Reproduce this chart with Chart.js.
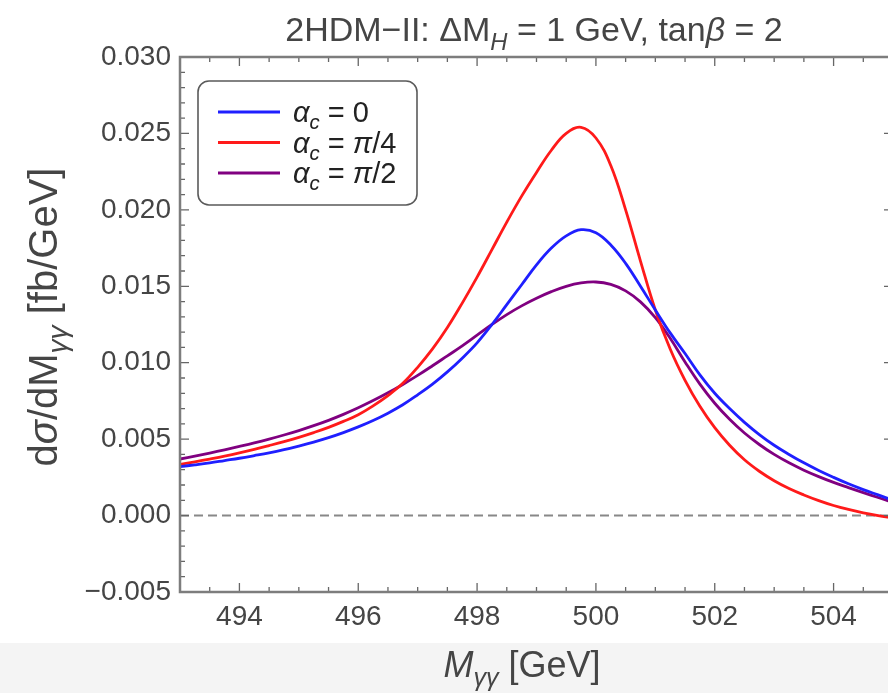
<!DOCTYPE html>
<html>
<head>
<meta charset="utf-8">
<script src="https://cdn.jsdelivr.net/npm/chart.js@4"></script>
<style>
  html, body { margin: 0; padding: 0; overflow: hidden; background: #fff; }
  canvas { display: block; }
</style>
</head>
<body>
<canvas id="chart" width="893" height="693" style="width:893px;height:693px"></canvas>
<script>
// values, every 0.25 GeV from 493 to 505 (y in fb/GeV)
const massStart = 493;
const massStep = 0.25;
const sigmaAlpha0 = [
  0.00320, 0.00332, 0.00345, 0.00360, 0.00375, 0.00392, 0.00410, 0.00431,
  0.00455, 0.00481, 0.00510, 0.00543, 0.00580, 0.00622, 0.00670, 0.00725,
  0.00790, 0.00860, 0.00940, 0.01030, 0.01130, 0.01250, 0.01380, 0.01510,
  0.01640, 0.01750, 0.01830, 0.01870, 0.01850, 0.01770, 0.01650, 0.01500,
  0.01345, 0.01195, 0.01060, 0.00920, 0.00800, 0.00700, 0.00610, 0.00530,
  0.00460, 0.00400, 0.00345, 0.00295, 0.00250, 0.00208, 0.00170, 0.00135, 0.00100];
const sigmaAlphaPi4 = [
  0.00335, 0.00352, 0.00370, 0.00389, 0.00410, 0.00433, 0.00458, 0.00484,
  0.00512, 0.00543, 0.00577, 0.00616, 0.00660, 0.00718, 0.00785, 0.00865,
  0.00970, 0.01090, 0.01230, 0.01390, 0.01560, 0.01740, 0.01920, 0.02090,
  0.02245, 0.02390, 0.02500, 0.02540, 0.02470, 0.02290, 0.02000, 0.01665,
  0.01345, 0.01090, 0.00885, 0.00715, 0.00575, 0.00460, 0.00365, 0.00290,
  0.00228, 0.00177, 0.00135, 0.00098, 0.00066, 0.00040, 0.00018, 0.00000, -0.00015];
const sigmaAlphaPi2 = [
  0.00370, 0.00389, 0.00409, 0.00430, 0.00452, 0.00475, 0.00500, 0.00527,
  0.00556, 0.00588, 0.00623, 0.00662, 0.00705, 0.00752, 0.00803, 0.00858,
  0.00917, 0.00980, 0.01045, 0.01110, 0.01180, 0.01250, 0.01315, 0.01372,
  0.01422, 0.01465, 0.01500, 0.01522, 0.01528, 0.01512, 0.01470, 0.01398,
  0.01295, 0.01160, 0.01005, 0.00860, 0.00735, 0.00630, 0.00540, 0.00465,
  0.00400, 0.00345, 0.00297, 0.00255, 0.00217, 0.00183, 0.00150, 0.00118, 0.00085];
const mass = sigmaAlpha0.map((_, i) => massStart + i * massStep);

const seriesLabels = ["0", "π/4", "π/2"];
const seriesColors = ["#1f1fff", "#ff1a1a", "#800080"];
const xTicks = [494, 496, 498, 500, 502, 504];
const yTicks = [-0.005, 0, 0.005, 0.010, 0.015, 0.020, 0.025, 0.030];

const FONT = "'Liberation Sans', Arial, Helvetica, sans-serif";
const TEXT = "#454545";

function toPoints(ys) {
  return mass.map((m, i) => ({ x: m, y: ys[i] }));
}

// draw a run of text pieces, some italic and/or subscripted
function richWidth(ctx, parts, size) {
  let w = 0;
  for (const p of parts) {
    const s = p.sub ? size * 0.7 : size;
    ctx.font = (p.it ? "italic " : "") + s + "px " + FONT;
    w += ctx.measureText(p.t).width;
  }
  return w;
}
function drawRich(ctx, parts, x, y, size) {
  let cx = x - richWidth(ctx, parts, size) / 2;
  ctx.textBaseline = "alphabetic";
  ctx.textAlign = "left";
  for (const p of parts) {
    const s = p.sub ? size * 0.7 : size;
    ctx.font = (p.it ? "italic " : "") + s + "px " + FONT;
    ctx.fillText(p.t, cx, p.sub ? y + size * 0.25 : y);
    cx += ctx.measureText(p.t).width;
  }
}

const background = {
  id: "background",
  beforeDraw(chart) {
    const ctx = chart.ctx;
    ctx.save();
    ctx.fillStyle = "#fff";
    ctx.fillRect(0, 0, chart.width, chart.height);
    ctx.fillStyle = "#f4f4f4";
    ctx.fillRect(0, 643, chart.width, chart.height - 643);
    ctx.restore();
  }
};

const zeroLine = {
  id: "zeroLine",
  beforeDatasetsDraw(chart) {
    const { ctx, chartArea } = chart;
    const y0 = chart.scales.y.getPixelForValue(0);
    ctx.save();
    ctx.strokeStyle = "#888";
    ctx.lineWidth = 2;
    ctx.setLineDash([9, 5]);
    ctx.beginPath();
    ctx.moveTo(chartArea.left, y0);
    ctx.lineTo(chartArea.right, y0);
    ctx.stroke();
    ctx.restore();
  }
};

const frame = {
  id: "frame",
  afterDraw(chart) {
    const { ctx, chartArea: a, scales } = chart;
    ctx.save();
    // ticks on all four sides, pointing inward
    ctx.strokeStyle = "#666";
    ctx.lineWidth = 1.3;
    ctx.beginPath();
    for (let v = 493; v <= 505.001; v += 0.5) {
      const px = scales.x.getPixelForValue(v);
      const len = Math.abs(v / 2 - Math.round(v / 2)) < 1e-6 ? 9 : 5;
      ctx.moveTo(px, a.bottom); ctx.lineTo(px, a.bottom - len);
      ctx.moveTo(px, a.top); ctx.lineTo(px, a.top + len);
    }
    for (let k = -5; k <= 30; k++) {
      const py = scales.y.getPixelForValue(k / 1000);
      const len = k % 5 === 0 ? 9 : 5;
      ctx.moveTo(a.left, py); ctx.lineTo(a.left + len, py);
      ctx.moveTo(a.right, py); ctx.lineTo(a.right - len, py);
    }
    ctx.stroke();
    ctx.strokeStyle = "#7d7d7d";
    ctx.lineWidth = 2.5;
    ctx.strokeRect(a.left, a.top, a.right - a.left, a.bottom - a.top);

    // titles
    ctx.fillStyle = TEXT;
    drawRich(ctx, [
      { t: "2HDM\u2212II: \u0394M" }, { t: "H", it: true, sub: true },
      { t: " = 1 GeV, tan" }, { t: "\u03b2", it: true }, { t: " = 2" }
    ], 534, 41, 34);
    drawRich(ctx, [
      { t: "M", it: true }, { t: "\u03b3\u03b3", it: true, sub: true }, { t: " [GeV]" }
    ], 522, 677, 36);
    ctx.save();
    ctx.translate(57, 317);
    ctx.rotate(-Math.PI / 2);
    drawRich(ctx, [
      { t: "d" }, { t: "\u03c3", it: true }, { t: "/dM" },
      { t: "\u03b3\u03b3", it: true, sub: true }, { t: " [fb/GeV]" }
    ], 0, 0, 40);
    ctx.restore();

    // legend box
    ctx.fillStyle = "#fff";
    ctx.strokeStyle = "#5a5a5a";
    ctx.lineWidth = 1.6;
    ctx.beginPath();
    ctx.roundRect(198, 81, 219, 124, 11);
    ctx.fill();
    ctx.stroke();
    chart.data.datasets.forEach((ds, i) => {
      const ly = 112 + i * 30.5;
      ctx.strokeStyle = ds.borderColor;
      ctx.lineWidth = 2.8;
      ctx.beginPath();
      ctx.moveTo(218, ly);
      ctx.lineTo(280, ly);
      ctx.stroke();
      ctx.fillStyle = "#222";
      const parts = [{ t: "\u03b1", it: true }, { t: "c", it: true, sub: true }, { t: " = " }];
      if (seriesLabels[i] === "0") parts.push({ t: "0" });
      else parts.push({ t: "\u03c0", it: true }, { t: seriesLabels[i].slice(1) });
      const w = richWidth(ctx, parts, 29);
      drawRich(ctx, parts, 293 + w / 2, ly + 10, 29);
    });
    ctx.restore();
  }
};

new Chart(document.getElementById("chart"), {
  type: "line",
  data: {
    datasets: [
      { label: "\u03b1c = 0", data: toPoints(sigmaAlpha0), borderColor: seriesColors[0] },
      { label: "\u03b1c = \u03c0/4", data: toPoints(sigmaAlphaPi4), borderColor: seriesColors[1] },
      { label: "\u03b1c = \u03c0/2", data: toPoints(sigmaAlphaPi2), borderColor: seriesColors[2] }
    ]
  },
  options: {
    responsive: false,
    animation: false,
    devicePixelRatio: 1,
    layout: { padding: { top: 57, right: 0, left: 0, bottom: 0 } },
    elements: {
      point: { radius: 0 },
      line: { borderWidth: 2.8, tension: 0.4, fill: false }
    },
    plugins: {
      legend: { display: false },
      title: { display: false },
      tooltip: { enabled: false }
    },
    scales: {
      x: {
        type: "linear",
        min: 493,
        max: 505,
        grid: { display: false, drawTicks: false },
        border: { display: false },
        afterBuildTicks: s => { s.ticks = xTicks.map(v => ({ value: v })); },
        afterFit: s => { s.height = 101; },
        ticks: {
          padding: 8,
          color: TEXT,
          font: { family: FONT, size: 28 },
          maxRotation: 0,
          callback: v => String(v)
        }
      },
      y: {
        type: "linear",
        min: -0.005,
        max: 0.030,
        grid: { display: false, drawTicks: false },
        border: { display: false },
        afterBuildTicks: s => { s.ticks = yTicks.map(v => ({ value: v })); },
        afterFit: s => { s.width = 180; },
        ticks: {
          padding: 9,
          color: TEXT,
          font: { family: FONT, size: 28 },
          callback: v => (v < 0 ? "\u2212" : "") + Math.abs(v).toFixed(3)
        }
      }
    }
  },
  plugins: [background, zeroLine, frame]
});
</script>
</body>
</html>
